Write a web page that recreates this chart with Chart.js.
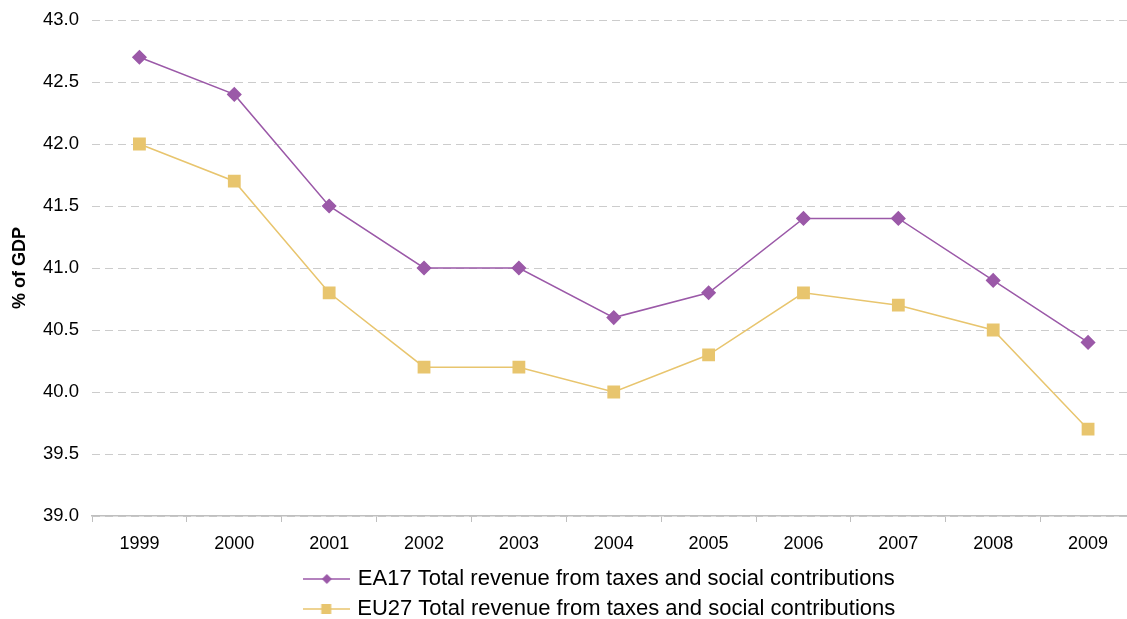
<!DOCTYPE html>
<html>
<head>
<meta charset="utf-8">
<script src="https://cdn.jsdelivr.net/npm/chart.js@4/dist/chart.umd.min.js"></script>
<style>
  html, body { margin: 0; padding: 0; background: #fff; overflow: hidden; }
  #wrap { width: 1127px; height: 619px; overflow: hidden; position: relative; }
  canvas { display: block; }
</style>
</head>
<body>
<!-- the plot runs a little past the right edge in the original, so the canvas is clipped -->
<div id="wrap"><canvas id="chart" width="1145" height="630"></canvas></div>
<script>
// data
const years = ['1999', '2000', '2001', '2002', '2003', '2004', '2005', '2006', '2007', '2008', '2009'];
const ea17 = [42.7, 42.4, 41.5, 41.0, 41.0, 40.6, 40.8, 41.4, 41.4, 40.9, 40.4];
const eu27 = [42.0, 41.7, 40.8, 40.2, 40.2, 40.0, 40.3, 40.8, 40.7, 40.5, 39.7];
const seriesNames = [
    'EA17 Total revenue from taxes and social contributions',
    'EU27 Total revenue from taxes and social contributions'
];

const purple = '#9b59a8';
const yellow = '#e8c56e';
const font = 'Liberation Sans, Arial, sans-serif';

// legend symbol: short line with the marker in the middle
function legendSymbol(color, shape) {
    const c = document.createElement('canvas');
    c.width = 47;
    c.height = 14;
    const ctx = c.getContext('2d');
    ctx.strokeStyle = color;
    ctx.lineWidth = 1.5;
    ctx.beginPath();
    ctx.moveTo(0, 7);
    ctx.lineTo(47, 7);
    ctx.stroke();
    ctx.fillStyle = color;
    if (shape === 'diamond') {
        ctx.beginPath();
        ctx.moveTo(23.5, 2);
        ctx.lineTo(28.5, 7);
        ctx.lineTo(23.5, 12);
        ctx.lineTo(18.5, 7);
        ctx.closePath();
        ctx.fill();
    } else {
        ctx.fillRect(18.5, 2, 10, 10);
    }
    return c;
}

// nudge the legend a little to the left, like the original
const legendShift = {
    id: 'legendShift',
    afterLayout(chart) {
        chart.legend.left -= 13;
        chart.legend.right -= 13;
    }
};

new Chart(document.getElementById('chart'), {
    type: 'line',
    data: {
        labels: years,
        datasets: [{
            label: seriesNames[0],
            data: ea17,
            borderColor: purple,
            backgroundColor: purple,
            borderWidth: 1.5,
            pointStyle: 'rectRot',
            pointRadius: 6.5,
            pointHoverRadius: 6.5,
            tension: 0
        }, {
            label: seriesNames[1],
            data: eu27,
            borderColor: yellow,
            backgroundColor: yellow,
            borderWidth: 1.5,
            pointStyle: 'rect',
            pointRadius: 8,
            pointHoverRadius: 8,
            tension: 0
        }]
    },
    plugins: [legendShift],
    options: {
        responsive: false,
        animation: false,
        layout: {
            padding: {top: 20, right: 0, left: 0, bottom: 0}
        },
        plugins: {
            tooltip: {enabled: false},
            legend: {
                position: 'bottom',
                fullSize: false,
                labels: {
                    usePointStyle: true,
                    pointStyleWidth: 40,
                    boxHeight: 14,
                    padding: 8,
                    color: '#000',
                    font: {family: font, size: 22},
                    generateLabels: chart => chart.data.datasets.map((ds, i) => ({
                        text: ds.label,
                        pointStyle: legendSymbol(ds.borderColor, i === 0 ? 'diamond' : 'square'),
                        fillStyle: ds.borderColor,
                        strokeStyle: ds.borderColor,
                        lineWidth: 0,
                        datasetIndex: i,
                        fontColor: '#000'
                    }))
                }
            }
        },
        scales: {
            x: {
                offset: true,
                afterFit: scale => {
                    scale.height = 44;
                    scale.paddingLeft = 0;
                    scale.paddingRight = 0;
                },
                grid: {
                    offset: true,
                    drawOnChartArea: false,
                    drawTicks: true,
                    tickLength: 6,
                    color: '#bfbfbf'
                },
                border: {display: true, color: '#bfbfbf', width: 1.5},
                ticks: {
                    color: '#000',
                    padding: 11,
                    maxRotation: 0,
                    font: {family: font, size: 18}
                }
            },
            y: {
                min: 39,
                max: 43,
                afterFit: scale => {
                    scale.width = 92;
                    scale.paddingTop = 0;
                    scale.paddingBottom = 0;
                },
                grid: {
                    color: '#cccccc',
                    lineWidth: 1,
                    drawTicks: false
                },
                border: {display: false, dash: [8, 5]},
                ticks: {
                    stepSize: 0.5,
                    padding: 13,
                    color: '#000',
                    font: {family: font, size: 18.5},
                    callback: v => v.toFixed(1)
                },
                title: {
                    display: true,
                    text: '% of GDP',
                    color: '#000',
                    padding: {top: 9, bottom: 0},
                    font: {family: font, size: 18, weight: 'bold'}
                }
            }
        }
    }
});
</script>
</body>
</html>
